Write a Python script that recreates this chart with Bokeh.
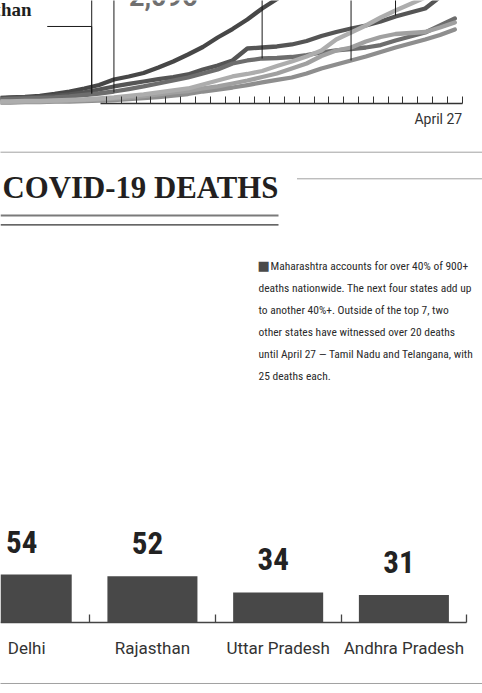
import pandas as pd
from bokeh.plotting import figure
from bokeh.layouts import column
from bokeh.models import Range1d, LinearAxis, FixedTicker, Span
from bokeh.core.properties import value
from bokeh.embed import file_html
from bokeh.resources import INLINE

# ---------------- data: cumulative cases, Mar 27 .. Apr 27 ----------------
dates = pd.date_range("2020-03-27", "2020-04-27")
day_idx = list(range(len(dates)))
end_label = dates[-1].strftime("%B ") + str(dates[-1].day)

cases_a = [138, 151, 164, 191, 244, 310, 390, 482, 628, 708, 800, 946, 1105, 1291, 1489, 1741,
           1966, 2218, 2510, 2760, 3081, 3205, 3323, 3651, 4203, 4669, 5221, 5652, 6430, 6817, 7628, 8068]
cases_b = [125, 138, 151, 164, 191, 231, 284, 363, 443, 509, 575, 641, 694, 761, 893, 999,
           1132, 1450, 1476, 1503, 1556, 1648, 1781, 1887, 1980, 2059, 2165, 2298, 2404, 2510, 2815, 3150]
cases_c = [98, 111, 125, 138, 151, 178, 217, 257, 310, 376, 443, 522, 602, 681, 787, 893,
           1052, 1132, 1185, 1198, 1224, 1277, 1344, 1397, 1436, 1476, 1542, 1662, 1768, 1874, 2059, 2245]
cases_d = [45, 45, 58, 58, 72, 85, 98, 125, 151, 191, 231, 284, 337, 390, 496, 602,
           708, 774, 853, 986, 1105, 1238, 1397, 1688, 1874, 2059, 2271, 2457, 2629, 2801, 2987, 3199]
cases_e = [32, 32, 45, 45, 58, 72, 85, 98, 125, 151, 191, 231, 284, 323, 390, 443,
           522, 602, 694, 787, 920, 1052, 1251, 1397, 1476, 1635, 1754, 1834, 1860, 1887, 2006, 2139]
cases_f = [19, 19, 32, 32, 45, 45, 58, 72, 85, 111, 138, 164, 204, 244, 310, 363,
           416, 482, 549, 615, 681, 787, 920, 1026, 1132, 1238, 1357, 1476, 1582, 1688, 1807, 1953]

series = [cases_a, cases_b, cases_c, cases_f, cases_e, cases_d]
series_colors = ["#474747", "#555555", "#6d6d6d", "#8e8e8e", "#a0a0a0", "#adadad"]

# label leaders (day, value at the pointed line)
leader_days = [6.5, 8, 18, 24, 27]
leader_vals = [257, 284, 1185, 1132, 2324]
label_name = "Rajasthan"
label_day = 2.44
label_val = 2470
elbow_day_start = 3.5
elbow_val = 2033
value_label = "2,096"
value_label_day = 8
value_label_val = 2843

# ---------------- data: deaths ----------------
bar_states = ["Delhi", "Rajasthan", "Uttar Pradesh", "Andhra Pradesh"]
bar_deaths = [54, 52, 34, 31]

heading = "COVID-19 DEATHS"
bullet = "\u25a0"
paragraph = [
    "Maharashtra accounts for over 40% of 900+",
    "deaths nationwide. The next four states add up",
    "to another 40%+. Outside of the top 7, two",
    "other states have witnessed over 20 deaths",
    "until April 27 \u2014 Tamil Nadu and Telangana, with",
    "25 deaths each.",
]
para_x = [270, 258, 258, 258, 258, 258]

SANS = value("Roboto")
COND = value("Roboto Condensed")
SERIF = value("Liberation Serif")


def base_fig(w, h, xr, yr):
    p = figure(width=w, height=h, x_range=xr, y_range=yr, output_backend="svg",
               toolbar_location=None, x_axis_location=None, y_axis_location=None,
               min_border=0, min_border_left=0, min_border_right=0,
               min_border_top=0, min_border_bottom=0)
    p.outline_line_color = None
    p.background_fill_color = "white"
    p.border_fill_color = "white"
    p.xgrid.visible = False
    p.ygrid.visible = False
    return p


# ---------------- top: line chart ----------------
p1 = base_fig(482, 140, Range1d(0.346, 32.869), Range1d(-988.5, 2721.6))
for vals, col in zip(series, series_colors):
    p1.line(day_idx, vals, line_color=col, line_width=4.3, line_join="round", line_cap="round")

p1.segment(x0=leader_days, y0=leader_vals, x1=leader_days, y1=[4000] * len(leader_days),
           line_color="#1a1a1a", line_width=1)
p1.segment(x0=[leader_days[0], elbow_day_start], y0=[leader_vals[0], elbow_val],
           x1=[leader_days[0], leader_days[0]], y1=[elbow_val, elbow_val],
           line_color="#1a1a1a", line_width=1)
p1.text(x=[label_day], y=[label_val], text=[label_name], text_align="right",
        text_baseline="middle", text_font=SERIF, text_font_style="bold",
        text_font_size="19px", text_color="#1e1e1e")
p1.text(x=[value_label_day], y=[value_label_val], text=[value_label], x_offset=15,
        text_align="left", text_baseline="middle", text_font=SANS,
        text_font_style="bold", text_font_size="27px", text_color="#707070")

ax1 = LinearAxis(fixed_location=0,
                 ticker=FixedTicker(ticks=[d + 0.5 for d in day_idx[7:]]),
                 bounds=(7.1, day_idx[-1] + 0.5))
ax1.major_tick_in = 7
ax1.major_tick_out = 0
ax1.minor_tick_line_color = None
ax1.major_tick_line_color = "#333333"
ax1.axis_line_color = "#333333"
ax1.axis_line_width = 1.3
ax1.major_label_text_color = None
p1.add_layout(ax1, "below")

p1.text(x=[day_idx[-1] + 0.5], y=[0], text=[end_label], text_align="right",
        text_baseline="middle", y_offset=15.5, text_font=SANS, text_font_size="14px",
        text_color="#333333")

# ---------------- middle: heading and text ----------------
p2 = base_fig(482, 340, Range1d(0, 482), Range1d(480, 140))
p2.add_layout(Span(location=151.7, dimension="width", line_color="#444444",
                   line_width=1, line_dash="1 1"))
p2.segment(x0=[297], y0=[178.3], x1=[482], y1=[178.3], line_color="#444444",
           line_width=1, line_dash="1 1")
p2.text(x=[2], y=[187.3], text=[heading], text_font=SERIF, text_font_style="bold",
        text_font_size="30.8px", text_color="#231f20", text_baseline="middle")
p2.segment(x0=[0], y0=[215], x1=[278], y1=[215], line_color="#7a7a7a", line_width=2)
p2.segment(x0=[0], y0=[224.3], x1=[278], y1=[224.3], line_color="#333333", line_width=1.3)
p2.text(x=[257], y=[265], text=[bullet], text_font=value("DejaVu Sans"),
        text_font_size="13px", text_color="#4a4a4a", text_baseline="middle",
        text_align="left")
p2.text(x=para_x, y=[265 + 22 * i for i in range(len(paragraph))],
        text=paragraph, text_font=COND, text_font_size="11.5px",
        text_color="#2b2b2b", text_baseline="middle", text_align="left")

# ---------------- bottom: bar chart ----------------
idx = list(range(len(bar_states)))
p3 = base_fig(482, 213, Range1d(-0.2084, 3.6252), Range1d(-79.17, 159.35))
p3.vbar(x=idx, top=bar_deaths, width=0.716, fill_color="#484848", line_color=None)

ax3 = LinearAxis(fixed_location=0, ticker=FixedTicker(ticks=[i + 0.5 for i in idx]),
                 bounds=(-0.2084, idx[-1] + 0.5))
ax3.major_tick_in = 8
ax3.major_tick_out = 0
ax3.minor_tick_line_color = None
ax3.major_tick_line_color = "#444444"
ax3.axis_line_color = "#444444"
ax3.axis_line_width = 1.5
ax3.major_tick_line_width = 1.3
ax3.major_label_text_color = None
p3.add_layout(ax3, "below")

p3.text(x=idx, y=[0] * len(idx), text=bar_states, y_offset=25, text_align="center",
        text_baseline="middle", text_font=SANS, text_font_size="17px", text_color="#333333")
p3.text(x=idx, y=bar_deaths, text=[str(v) for v in bar_deaths], x_offset=-5, y_offset=-33,
        text_align="center", text_baseline="middle", text_font=COND,
        text_font_style="bold", text_font_size="31px", text_color="#222222")
p3.add_layout(Span(location=-67.97, dimension="width", line_color="#444444",
                   line_width=1, line_dash="1 1"))

layout = column(p1, p2, p3, spacing=0)
open("out.html", "w").write(file_html(layout, INLINE))
